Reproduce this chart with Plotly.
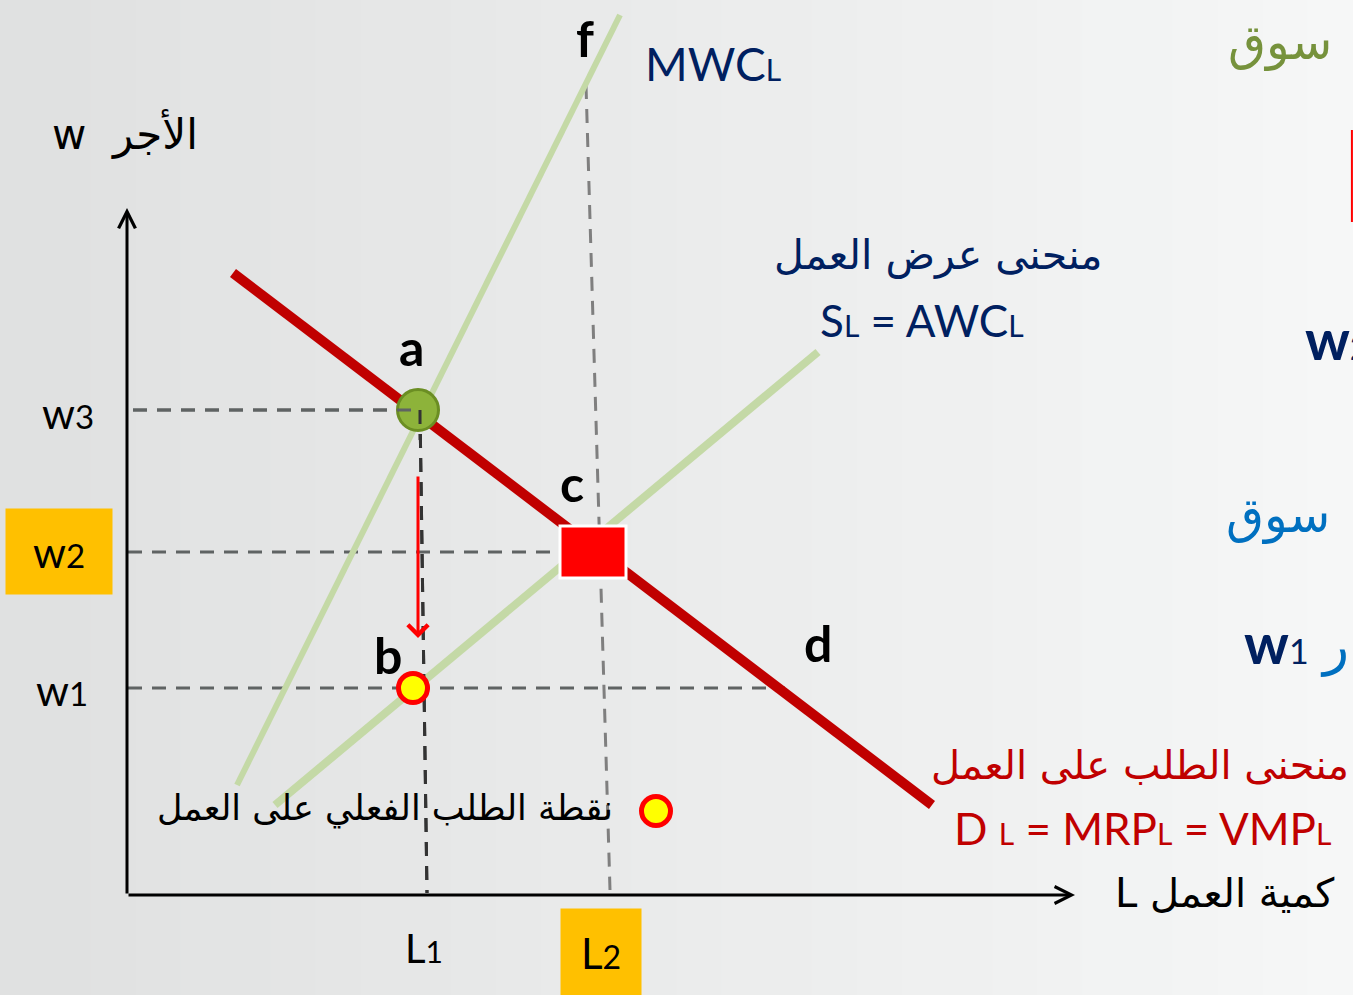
import plotly.graph_objects as go

# ------------------------------------------------------------
# Data (diagram units: L along x, w along y)
# ------------------------------------------------------------
DEMAND_L = [1.06, 8.05]
DEMAND_W = [6.22, 0.90]

MWC_L = [1.10, 4.93]
MWC_W = [1.10, 8.80]

SUPPLY_L = [1.48, 6.91]
SUPPLY_W = [0.90, 5.43]

W_LEVELS = {"w3": 4.85, "w2": 3.43, "w1": 2.07}
L1 = [2.93, 3.00]          # slightly slanted guide (top, bottom)
L2 = [4.59, 4.83]
L2_TOP = 8.10

POINT_A = (2.91, 4.85)
POINT_B = (2.86, 2.07)
POINT_C = (4.66, 3.43)
LEGEND_PT = (5.29, 0.84)

ARROW_L = 2.91
ARROW_W = [4.20, 2.57]

AXIS_L_MAX = 9.48
AXIS_W_MAX = 6.87

NAVY = "#002060"
DARK_RED = "#C00000"
GREEN_LINE = "#C4D9A6"
FONT = "Lato, DejaVu Sans, sans-serif"
AR_FONT = "DejaVu Sans, sans-serif"

fig = go.Figure()

# background gradient (left darker, right lighter)
n_bands = 30
for i in range(n_bands):
    t = i / (n_bands - 1)
    c = int(224 + (246 - 224) * t)
    fig.add_shape(type="rect", xref="paper", yref="paper",
                  x0=i / n_bands, x1=(i + 1) / n_bands + 0.002, y0=0, y1=1,
                  fillcolor=f"rgb({c},{c+1},{c+1})", line_width=0, layer="below")


def seg(x, y, color, width, dash="solid"):
    fig.add_trace(go.Scatter(x=x, y=y, mode="lines", hoverinfo="skip",
                             line=dict(color=color, width=width, dash=dash),
                             showlegend=False))


# guide lines
DASH = "14px,10px"
seg([0.06, L1[0]], [W_LEVELS["w3"]] * 2, "#5f6363", 3, DASH)
seg([0.01, POINT_C[0] - 0.33], [W_LEVELS["w2"]] * 2, "#5f6363", 3, DASH)
seg([0.01, 6.58], [W_LEVELS["w1"]] * 2, "#5f6363", 3, DASH)
seg(L1, [W_LEVELS["w3"], 0.02], "#333333", 3, DASH)
seg(L2, [L2_TOP, 0.05], "#7f7f7f", 3, DASH)

# curves
fig.add_trace(go.Scatter(x=MWC_L, y=MWC_W, mode="lines", hoverinfo="skip",
                         line=dict(color=GREEN_LINE, width=6), showlegend=False))
fig.add_trace(go.Scatter(x=SUPPLY_L, y=SUPPLY_W, mode="lines", hoverinfo="skip",
                         line=dict(color=GREEN_LINE, width=8), showlegend=False))
# redraw guide over green where they cross
seg(L1, [W_LEVELS["w3"], 0.02], "#333333", 3, DASH)
fig.add_trace(go.Scatter(x=DEMAND_L, y=DEMAND_W, mode="lines", hoverinfo="skip",
                         line=dict(color=DARK_RED, width=10), showlegend=False))

# points
fig.add_trace(go.Scatter(x=[POINT_A[0]], y=[POINT_A[1]], mode="markers",
                         marker=dict(size=41, color="#8DB33A",
                                     line=dict(color="#6B8E23", width=3)),
                         showlegend=False, hoverinfo="skip"))
seg([0.06, L1[0]], [W_LEVELS["w3"]] * 2, "#5f6363", 3, DASH)
seg([L1[0], L1[0] + 0.001], [W_LEVELS["w3"], W_LEVELS["w3"] - 0.3], "#333333", 3, DASH)

fig.add_shape(type="rect", xref="x", yref="y",
              xsizemode="pixel", ysizemode="pixel",
              xanchor=POINT_C[0], yanchor=POINT_C[1],
              x0=-33, x1=33, y0=-26, y1=26,
              fillcolor="#FF0000", line=dict(color="white", width=3))

for pt in (POINT_B, LEGEND_PT):
    fig.add_trace(go.Scatter(x=[pt[0]], y=[pt[1]], mode="markers",
                             marker=dict(size=29, color="#FFFF00",
                                         line=dict(color="#FF0000", width=5)),
                             showlegend=False, hoverinfo="skip"))

annotations = []

# axes with open arrow heads
annotations.append(dict(x=AXIS_L_MAX, y=0, ax=0, ay=0, xref="x", yref="y",
                        axref="x", ayref="y", showarrow=True, arrowhead=5,
                        arrowsize=1.1, arrowwidth=3, arrowcolor="black", text=""))
annotations.append(dict(x=0, y=AXIS_W_MAX, ax=0, ay=0, xref="x", yref="y",
                        axref="x", ayref="y", showarrow=True, arrowhead=5,
                        arrowsize=1.1, arrowwidth=3, arrowcolor="black", text=""))
# red movement arrow a -> b
annotations.append(dict(x=ARROW_L, y=ARROW_W[1], ax=ARROW_L, ay=ARROW_W[0],
                        xref="x", yref="y", axref="x", ayref="y", showarrow=True,
                        arrowhead=4, arrowsize=1.3, arrowwidth=3,
                        arrowcolor="#FF0000", text=""))


def label(x, y, text, size, color="black", bold=False, font=FONT, **kw):
    d = dict(x=x, y=y, xref="x", yref="y", text=f"<b>{text}</b>" if bold else text,
             showarrow=False, font=dict(family=font, size=size, color=color))
    d.update(kw)
    annotations.append(d)


SMALL = "<span style='font-size:{}px'>{}</span>"

for name, x, y in [("a", 2.84, 5.48), ("b", 2.61, 2.40), ("c", 4.45, 4.12),
                   ("d", 6.91, 2.52), ("f", 4.58, 8.57)]:
    label(x, y, name, 50, bold=True)

label(-0.59, 4.82, "w" + SMALL.format(33, "3"), 42)
label(-0.68, 3.44, "w" + SMALL.format(33, "2"), 42, bgcolor="#FFC000",
      width=102, height=81, borderpad=2)
label(-0.65, 2.05, "w" + SMALL.format(33, "1"), 42)
label(2.97, -0.53, "L" + SMALL.format(30, "1"), 40)
label(4.74, -0.58, "L" + SMALL.format(32, "2"), 42, bgcolor="#FFC000",
      width=76, height=84, borderpad=2)

label(-0.02, 7.62, "w  الأجر", 42, font=AR_FONT)
label(5.86, 8.32, "MWC" + SMALL.format(30, "L"), 46, color=NAVY)
label(8.11, 6.40, "منحنى عرض العمل", 41, color=NAVY, font=AR_FONT)
label(7.95, 5.75, "S" + SMALL.format(30, "L") + " = AWC" + SMALL.format(30, "L"),
      44, color=NAVY)
label(10.13, 1.30, "منحنى الطلب على العمل", 40, color=DARK_RED, font=AR_FONT)
label(10.15, 0.67, "D " + SMALL.format(30, "L") + " = MRP" + SMALL.format(30, "L")
      + " = VMP" + SMALL.format(30, "L"), 44, color=DARK_RED)
label(10.98, 0.02, "L كمية العمل", 40, font=AR_FONT)
label(2.58, 0.87, "نقطة الطلب الفعلي على العمل", 35, font=AR_FONT)

# right-hand side (cut off by the slide edge, as in the slide)
label(11.53, 8.53, "سوق", 49, color="#76923C", font=AR_FONT)
label(11.51, 3.80, "سوق", 49, color="#0070C0", font=AR_FONT)
label(11.76, 5.57, "<b>w</b>" + SMALL.format(34, "<b>2</b>"), 56, color=NAVY,
      xanchor="left")
label(11.15, 2.52, "<b>w</b>" + SMALL.format(34, "1")
      + " <span style='color:#0070C0;font-size:54px'>ر</span>", 56, color=NAVY,
      xanchor="left", font=FONT)

fig.add_shape(type="line", xref="paper", yref="paper", x0=0.9992, x1=0.9992,
              y0=1 - 130 / 995, y1=1 - 222 / 995, line=dict(color="#FF0000", width=2))

fig.update_layout(
    width=1353, height=995,
    margin=dict(l=0, r=0, t=0, b=0),
    paper_bgcolor="#ebecec", plot_bgcolor="rgba(0,0,0,0)",
    annotations=annotations,
    showlegend=False,
)
fig.update_xaxes(range=[-1.27, 12.26], visible=False, fixedrange=True)
fig.update_yaxes(range=[-1.00, 8.95], visible=False, fixedrange=True)

fig.write_html("out.html", config={"displayModeBar": False},
               post_script="document.body.style.margin='0px';"
                           "document.body.style.overflow='hidden';")
